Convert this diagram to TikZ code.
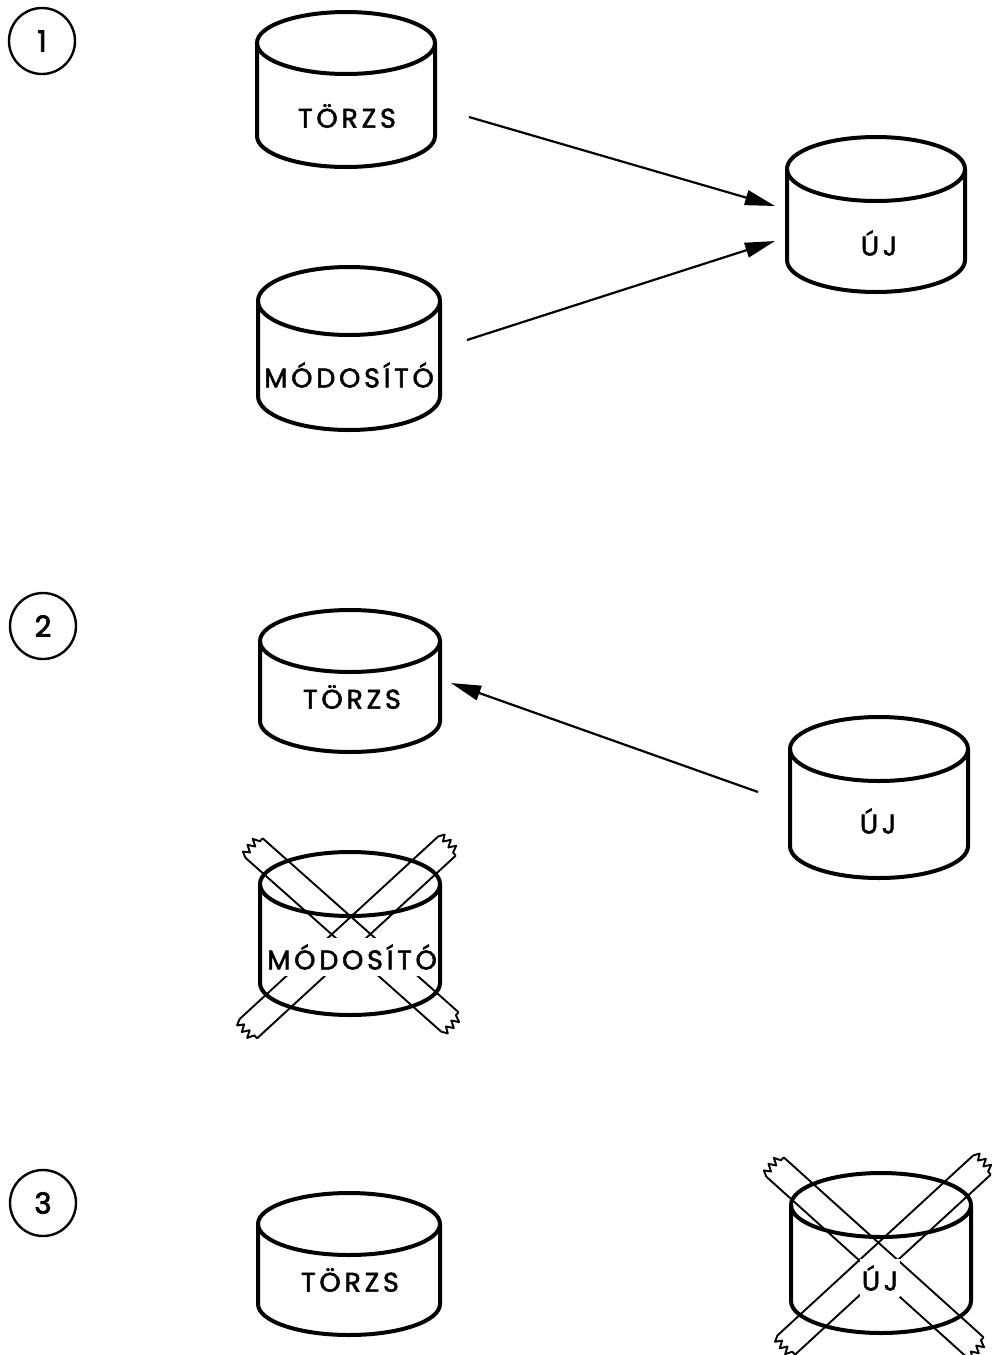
\documentclass[tikz,border=0pt]{standalone}
\usepackage{fontspec}
\setmainfont{Poppins}
\newfontfamily\labelfont[LetterSpace=14,FakeBold=2]{Poppins}
\newfontfamily\digitfont[FakeBold=2.5]{Poppins}
\usetikzlibrary{arrows.meta}
\begin{document}
\begin{tikzpicture}[x=1pt,y=-1pt,
  outline/.style={line width=4pt, line join=round},
  tapeline/.style={line width=1.9pt, line join=round},
  arr/.style={line width=2.2pt, -{Triangle[length=30pt,width=15pt]}},
  lbl/.style={font=\labelfont\fontsize{27}{27}\selectfont, inner sep=0pt},
  lblcut/.style={lbl, fill=white, inner xsep=2pt, inner ysep=6pt},
  numc/.style={circle, draw, line width=2.4pt, minimum size=66pt, inner sep=0pt,
    font=\digitfont\fontsize{29}{29}\selectfont},
  % upright cylinder: origin at the centre of the top ellipse
  pics/cyl/.style n args={3}{code={
    \draw[outline] (0,0) ellipse [x radius=#1, y radius=#2];
    \draw[outline] (-#1,0) -- (-#1,#3)
      .. controls (-#1,#3+0.5523*#2) and (-0.5523*#1,#3+#2) .. (0,#3+#2)
      .. controls (0.5523*#1,#3+#2) and (#1,#3+0.5523*#2) .. (#1,#3) -- (#1,0);
  }},
  % strip of adhesive tape with torn ends, running along local x
  pics/tape/.style={code={
    \draw[tapeline] (0,-13) -- (#1,-13) (0,13) -- (#1,13);
    \draw[tapeline] (0,13) -- (-6,10) -- (0,6) -- (-7,2) -- (0,-2) -- (-7,-6) -- (0,-9) -- (0,-13);
    \draw[tapeline] (#1,13) -- (#1+6,10) -- (#1,6) -- (#1+7,2) -- (#1,-2) -- (#1+7,-6) -- (#1,-9) -- (#1,-13);
  }}
]
\useasboundingbox (0,0) rectangle (992,1355);

% step numbers
\node[numc] (n1) at (42,41) {1};
\node[numc] (n2) at (43,626) {2};
\node[numc] (n3) at (43,1203) {3};

% ---- step 1 ----
\pic at (346,43) {cyl={89}{31}{93}};
\node[lbl] (t1) at (347,116) {TÖRZS};
\pic at (349,301) {cyl={91}{34}{95}};
\node[lbl] (m1) at (349,375) {MÓDOSÍTÓ};
\pic at (876,169) {cyl={89}{32}{91}};
\node[lbl] (u1) at (879,243) {ÚJ};

\coordinate (a1) at (469,117);
\coordinate (b1) at (775,206);
\coordinate (a2) at (467,340);
\coordinate (b2) at (775,241);
\draw[arr] (a1) -- (b1);
\draw[arr] (a2) -- (b2);

% ---- step 2 ----
\pic at (350,641) {cyl={90}{31}{80}};
\node[lbl] (t2) at (352,697) {TÖRZS};
\pic at (879,749) {cyl={89}{32}{97}};
\node[lbl] (u2) at (878,821) {ÚJ};

\coordinate (a3) at (758,792);
\coordinate (b3) at (451,683);
\draw[arr] (a3) -- (b3);

% discarded change file, taped over
\pic[rotate=-41.6] at (254,848) {tape=262};
\pic[rotate=-137.4] at (447,846) {tape=270};
\node[lblcut] (m2) at (352,957) {MÓDOSÍTÓ};
\pic at (350,884) {cyl={90}{32}{99}};

% ---- step 3 ----
\pic at (349,1224) {cyl={91}{31}{80}};
\node[lbl] (t3) at (350,1280) {TÖRZS};

% discarded new file, taped over
\pic[rotate=-42] at (775,1167) {tape=269};
\pic[rotate=-137.4] at (982,1165) {tape=266};
\node[lblcut] (u3) at (880,1278) {ÚJ};
\pic at (881,1205) {cyl={90}{32}{96}};
\end{tikzpicture}
\end{document}
